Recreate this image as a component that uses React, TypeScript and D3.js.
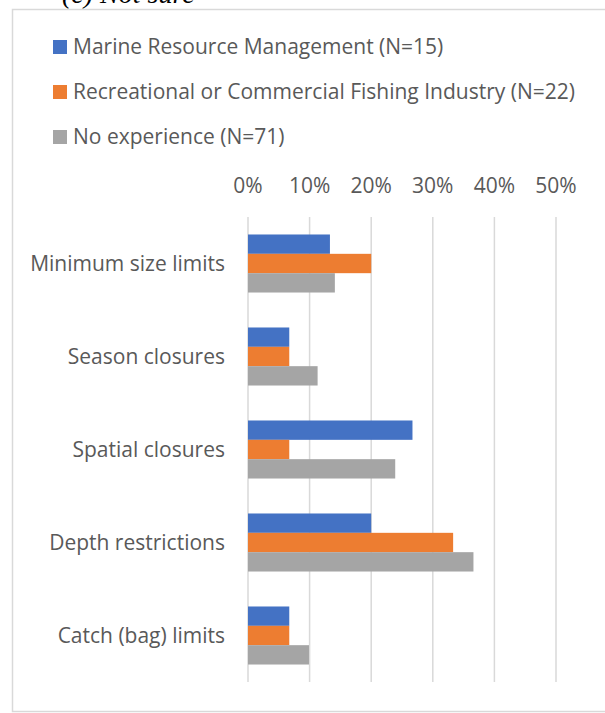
import * as d3 from 'd3';

const categories = [
  'Minimum size limits',
  'Season closures',
  'Spatial closures',
  'Depth restrictions',
  'Catch (bag) limits',
];
const seriesNames = [
  'Marine Resource Management (N=15)',
  'Recreational or Commercial Fishing Industry (N=22)',
  'No experience (N=71)',
];
const marineMgmt = [13.3, 6.7, 26.7, 20.0, 6.7];
const fishingIndustry = [20.0, 6.7, 6.7, 33.3, 6.7];
const noExperience = [14.1, 11.3, 23.9, 36.6, 9.9];
const xTicks = [0, 10, 20, 30, 40, 50];
const colors = ['#4472C4', '#ED7D31', '#A5A5A5'];

const FONT = '"Open Sans", Lato, sans-serif';
const TEXT = '#595959';
const GRID = '#d9d9d9';
const FS = 21;

const App = () => {
  const W = 605;
  const H = 713;
  const plot = { left: 248, right: 556, top: 217, bottom: 682 };
  const series = [marineMgmt, fishingIndustry, noExperience];

  const x = d3.scaleLinear().domain([0, 50]).range([plot.left, plot.right]);
  const y = d3
    .scaleBand()
    .domain(categories)
    .range([plot.top, plot.bottom])
    .paddingInner(0.376)
    .paddingOuter(0.188);
  const ySub = d3
    .scaleBand()
    .domain(d3.range(series.length).map(String))
    .range([0, y.bandwidth()]);

  return (
    <svg
      width={W}
      height={H}
      style={{ position: 'absolute', left: 0, top: 0, background: '#fff' }}
    >
      <text
        x={62}
        y={3}
        fontFamily='"Liberation Serif", serif'
        fontStyle="italic"
        fontSize={28}
        fill="#000"
      >
        (c) Not sure
      </text>
      <rect x={12.5} y={9.5} width={W + 10} height={702} fill="#fff" stroke={GRID} strokeWidth={1.5} />

      {seriesNames.map((name, i) => (
        <g key={name} transform={`translate(53,${47 + i * 45})`}>
          <rect x={0} y={-7} width={14} height={14} fill={colors[i]} />
          <text x={20} y={0} dy="0.35em" fontFamily={FONT} fontSize={FS} fill={TEXT}>
            {name}
          </text>
        </g>
      ))}

      {xTicks.map((t) => (
        <g key={t}>
          <line x1={x(t)} x2={x(t)} y1={plot.top} y2={plot.bottom} stroke={GRID} strokeWidth={1.5} />
          <text
            x={x(t)}
            y={186}
            dy="0.35em"
            textAnchor="middle"
            fontFamily={FONT}
            fontSize={FS}
            fill={TEXT}
          >
            {t}%
          </text>
        </g>
      ))}

      {categories.map((c, ci) => (
        <g key={c} transform={`translate(0,${y(c)})`}>
          {series.map((vals, si) => (
            <rect
              key={si}
              x={x(0)}
              y={ySub(String(si))}
              width={x(vals[ci]) - x(0)}
              height={ySub.bandwidth()}
              fill={colors[si]}
            />
          ))}
          <text
            x={225}
            y={y.bandwidth() / 2}
            dy="0.35em"
            textAnchor="end"
            fontFamily={FONT}
            fontSize={FS}
            fill={TEXT}
          >
            {c}
          </text>
        </g>
      ))}
    </svg>
  );
};

export default App;
